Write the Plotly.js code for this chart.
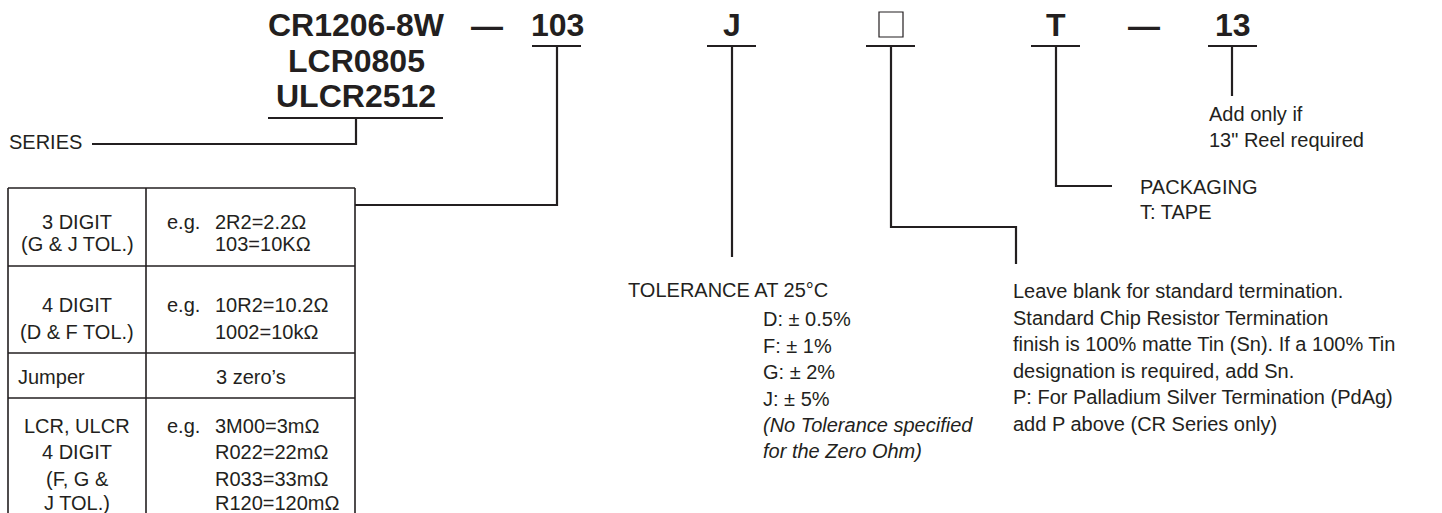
<!DOCTYPE html>
<html>
<head>
<meta charset="utf-8">
<script src="https://cdn.plot.ly/plotly-3.0.1.min.js"></script>
<style>html,body{margin:0;padding:0;background:#fff;}#chart{width:1442px;height:513px;}</style>
</head>
<body>
<div id="chart"></div>
<script>
// ---- content (text of the part-number diagram) ----
const codeSegments = ['CR1206-8W', '—', '103', 'J', '', 'T', '—', '13'];
const seriesNames = ['CR1206-8W', 'LCR0805', 'ULCR2512'];
const seriesLabel = 'SERIES';
const tableLeftCol = [
  ['3 DIGIT', '(G & J TOL.)'],
  ['4 DIGIT', '(D & F TOL.)'],
  ['Jumper'],
  ['LCR, ULCR', '4 DIGIT', '(F, G &', 'J TOL.)']
];
const tableExamplePrefix = 'e.g.';
const tableRightCol = [
  ['2R2=2.2Ω', '103=10KΩ'],
  ['10R2=10.2Ω', '1002=10kΩ'],
  ['3 zero’s'],
  ['3M00=3mΩ', 'R022=22mΩ', 'R033=33mΩ', 'R120=120mΩ']
];
const reelNote = ['Add only if', '13" Reel required'];
const packagingNote = ['PACKAGING', 'T: TAPE'];
const toleranceTitle = 'TOLERANCE AT 25°C';
const toleranceCodes = ['D: ± 0.5%', 'F: ± 1%', 'G: ± 2%', 'J: ± 5%'];
const toleranceFootnote = ['(No Tolerance specified', 'for the Zero Ohm)'];
const terminationNote = [
  'Leave blank for standard termination.',
  'Standard Chip Resistor Termination',
  'finish is 100% matte Tin (Sn). If a 100% Tin',
  'designation is required, add Sn.',
  'P: For Palladium Silver Termination (PdAg)',
  'add P above (CR Series only)'
];

// ---- layout geometry & style ----
const FONT = 'Liberation Sans, Arial, Helvetica, sans-serif';
const INK = '#231f20';
const W = 1442, H = 513;
const G = {
  codeX: [356, 487, 557, 732, 891, 1056, 1144, 1233],
  codeY: 25, dashY: 26, codeSize: 32,
  seriesY: [25, 60.5, 96],
  underY: 46, underHalf: 24,
  tickIdx: [2, 3, 4, 5, 7],
  table: {left: 8, mid: 146, right: 355, top: 188, rows: [266, 353, 398], bottom: 513},
  tableRowY: [[222, 244], [305, 332], [377], [426, 452, 479, 503]],
  egX: 166, valX: 214,
  fs: 20
};

const annotations = [];
const shapes = [];
function txt(text, x, y, o) {
  o = o || {};
  annotations.push({
    text: text, x: x, y: y, xref: 'x', yref: 'y', showarrow: false,
    xanchor: o.anchor || 'left', yanchor: 'middle',
    font: {family: FONT, size: o.size || G.fs, color: INK, weight: o.bold ? 700 : 400},
    borderpad: 0
  });
}
function line(x0, y0, x1, y1, w) {
  shapes.push({type: 'line', xref: 'x', yref: 'y', x0: x0, y0: y0, x1: x1, y1: y1,
    line: {color: INK, width: w || 2.2}});
}
function path(pts, w) {
  const d = pts.map((p, i) => (i ? 'L' : 'M') + p[0] + ',' + p[1]).join(' ');
  shapes.push({type: 'path', xref: 'x', yref: 'y', path: d, line: {color: INK, width: w || 2.2}});
}

// code row
codeSegments.forEach((s, i) => {
  if (i === 0) return;
  if (s === '') {
    shapes.push({type: 'rect', xref: 'x', yref: 'y', x0: G.codeX[i] - 12, x1: G.codeX[i] + 12,
      y0: 12, y1: 37, line: {color: INK, width: 1.2}});
    return;
  }
  txt('<b>' + s + '</b>', G.codeX[i], s === '—' ? G.dashY : G.codeY, {anchor: 'center', size: G.codeSize, bold: true});
});
seriesNames.forEach((s, i) => txt('<b>' + s + '</b>', G.codeX[0], G.seriesY[i], {anchor: 'center', size: G.codeSize, bold: true}));

// underlines
line(268, 118, 443, 118);
G.tickIdx.forEach(i => line(G.codeX[i] - G.underHalf - 1, G.underY, G.codeX[i] + G.underHalf, G.underY));

// connectors
path([[356, 118], [356, 144], [92, 144]]);
txt(seriesLabel, 8, 142);
path([[557, 46], [557, 205], [355, 205]]);
line(732, 46, 732, 257);
path([[891, 46], [891, 227], [1016, 227], [1016, 264]]);
path([[1056, 46], [1056, 186], [1112, 186]]);
line(1232, 46, 1232, 96);

// table
const T = G.table;
line(T.left, T.top, T.right, T.top, 1.6);
[T.left, T.mid, T.right].forEach(x => line(x, T.top, x, T.bottom, 1.6));
T.rows.forEach(y => line(T.left, y, T.right, y, 1.6));
tableLeftCol.forEach((rows, r) => rows.forEach((s, k) => {
  if (s === 'Jumper') txt(s, 17, G.tableRowY[r][k]);
  else txt(s, (T.left + T.mid) / 2, G.tableRowY[r][k], {anchor: 'center'});
}));
tableRightCol.forEach((rows, r) => rows.forEach((s, k) => {
  const y = G.tableRowY[r][k];
  if (rows.length === 1) { txt(s, (T.mid + T.right) / 2, y, {anchor: 'center'}); return; }
  if (k === 0) txt(tableExamplePrefix, G.egX, y);
  txt(s, G.valX, y);
}));

// notes
reelNote.forEach((s, k) => txt(s, 1208, 114 + k * 26));
packagingNote.forEach((s, k) => txt(s, 1139, 187 + k * 25));
txt(toleranceTitle, 627, 290);
toleranceCodes.forEach((s, k) => txt(s, 762, 319 + k * 26.7));
toleranceFootnote.forEach((s, k) => txt('<i>' + s + '</i>', 762, 425 + k * 26));
terminationNote.forEach((s, k) => txt(s, 1012, 291 + k * 26.6));

Plotly.newPlot('chart', [], {
  width: W, height: H,
  margin: {l: 0, r: 0, t: 0, b: 0, pad: 0},
  paper_bgcolor: '#fff', plot_bgcolor: '#fff',
  xaxis: {range: [0, W], visible: false, fixedrange: true},
  yaxis: {range: [H, 0], visible: false, fixedrange: true},
  showlegend: false,
  shapes: shapes,
  annotations: annotations
}, {staticPlot: true, displayModeBar: false});
</script>
</body>
</html>
